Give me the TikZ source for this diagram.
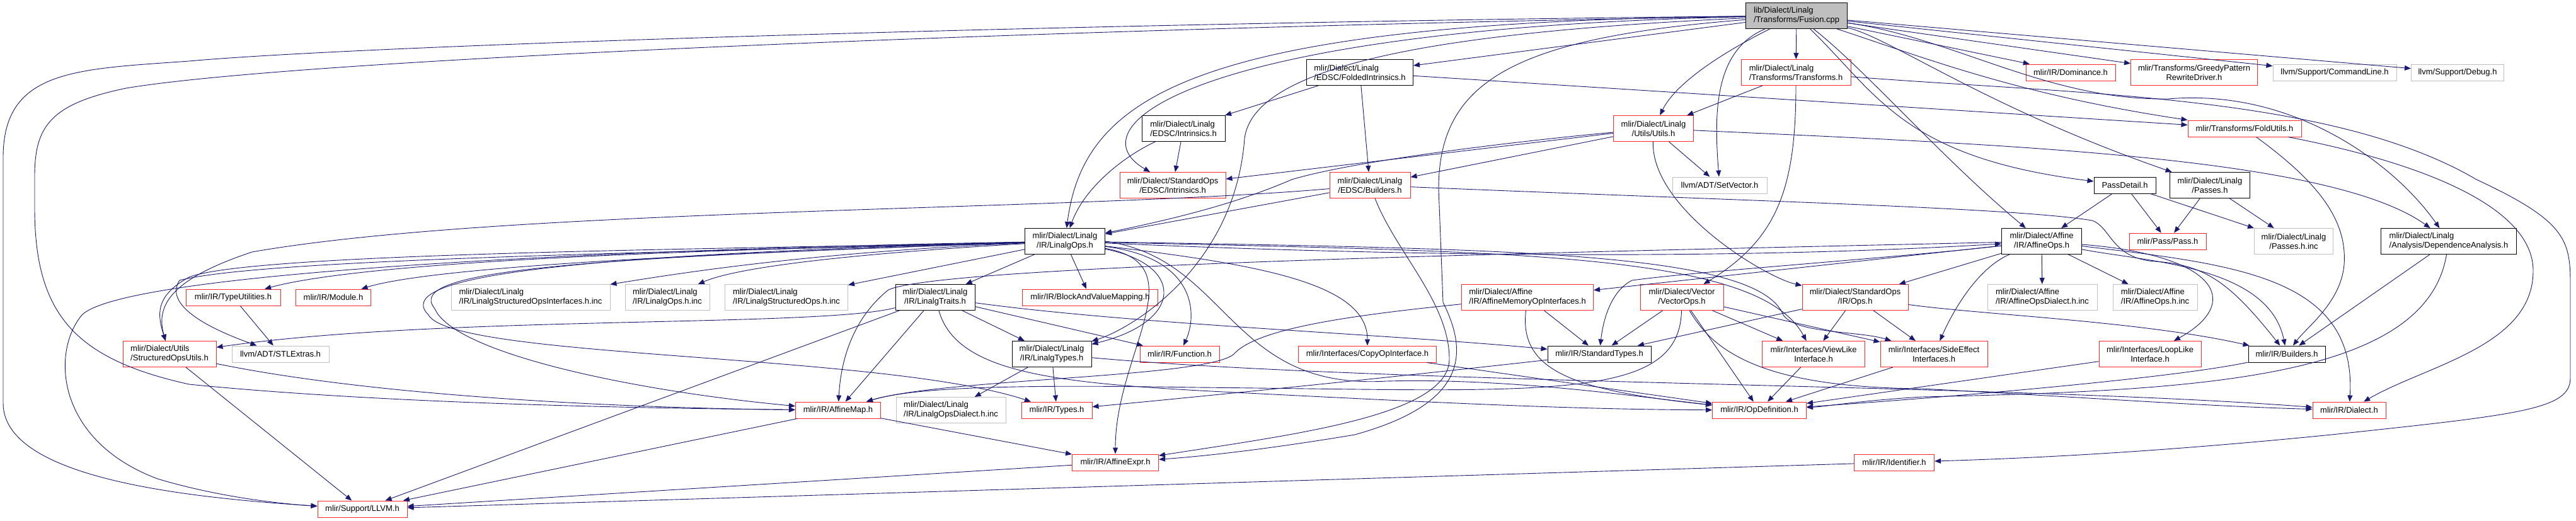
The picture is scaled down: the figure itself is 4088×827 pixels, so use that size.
\documentclass[tikz,border=0pt]{standalone}
\usepackage{fontspec}
\setmainfont{Liberation Sans}
\usetikzlibrary{arrows.meta}

\definecolor{edgeblue}{RGB}{25,25,112}
\definecolor{boxred}{RGB}{255,40,40}
\definecolor{boxgray}{RGB}{191,191,191}

\newlength\lblA
\newlength\lblB
\newcommand\lbl[2]{\settowidth\lblA{#1}\settowidth\lblB{#2}%
  \ifdim\lblB>\lblA\lblA=\lblB\fi
  \parbox{\lblA}{\makebox[\lblA][l]{#1}\\\makebox[\lblA][c]{#2}}}

\begin{document}
\begin{tikzpicture}[x=1pt,y=-1pt,
    hdr/.style={draw=black, line width=1pt, fill=white, inner sep=0pt,
      minimum height=26pt, font=\fontsize{13}{15}\selectfont},
    hdrred/.style={hdr, draw=boxred},
    hdrgray/.style={hdr, draw=boxgray},
    srcfile/.style={hdr, fill=boxgray, minimum height=41pt},
    twoline/.style={minimum height=41pt},
    incl/.style={draw=edgeblue, line width=0.9pt, -{Triangle[length=10pt,width=8pt]}}]

\fill[white] (0,0) rectangle (4088,827);
\useasboundingbox (0,0) rectangle (4088,827);

% Source file
\node[srcfile, minimum width=161pt] (fusion) at (2851,25) {\lbl{lib/Dialect/Linalg}{/Transforms/Fusion.cpp}};

% Headers, top rows
\node[hdr, twoline, minimum width=169pt] (foldedintr) at (2158,115) {\lbl{mlir/Dialect/Linalg}{/EDSC/FoldedIntrinsics.h}};
\node[hdrred, twoline, minimum width=174pt] (transforms) at (2850,115) {\lbl{mlir/Dialect/Linalg}{/Transforms/Transforms.h}};
\node[hdrred, minimum width=142pt] (dominance) at (3286,115) {mlir/IR/Dominance.h};
\node[hdrred, twoline, minimum width=201pt] (greedy) at (3482,115) {\lbl{mlir/Transforms/GreedyPattern}{RewriteDriver.h}};
\node[hdrgray, minimum width=196pt] (cmdline) at (3705,115) {llvm/Support/CommandLine.h};
\node[hdrgray, minimum width=147pt] (debug) at (3900,115) {llvm/Support/Debug.h};

\node[hdr, twoline, minimum width=132pt] (linalgintr) at (1878,204) {\lbl{mlir/Dialect/Linalg}{/EDSC/Intrinsics.h}};
\node[hdrred, twoline, minimum width=127pt] (utils) at (2624,204) {\lbl{mlir/Dialect/Linalg}{/Utils/Utils.h}};
\node[hdrred, minimum width=180pt] (foldutils) at (3562,204) {mlir/Transforms/FoldUtils.h};

\node[hdrred, twoline, minimum width=168pt] (stdintr) at (1861,294) {\lbl{mlir/Dialect/StandardOps}{/EDSC/Intrinsics.h}};
\node[hdrred, twoline, minimum width=128pt] (edscbuilders) at (2174,294) {\lbl{mlir/Dialect/Linalg}{/EDSC/Builders.h}};
\node[hdrgray, minimum width=150pt] (setvector) at (2729,294) {llvm/ADT/SetVector.h};
\node[hdr, minimum width=98pt] (passdetail) at (3372,294) {PassDetail.h};
\node[hdr, twoline, minimum width=127pt] (passes) at (3507,294) {\lbl{mlir/Dialect/Linalg}{/Passes.h}};

\node[hdr, twoline, minimum width=127pt] (linalgops) at (1690,383) {\lbl{mlir/Dialect/Linalg}{/IR/LinalgOps.h}};
\node[hdr, twoline, minimum width=127pt] (affineops) at (3240,383) {\lbl{mlir/Dialect/Affine}{/IR/AffineOps.h}};
\node[hdrred, minimum width=122pt] (pass) at (3440,383) {mlir/Pass/Pass.h};
\node[hdrgray, twoline, minimum width=125pt] (passesinc) at (3640,383) {\lbl{mlir/Dialect/Linalg}{/Passes.h.inc}};
\node[hdr, twoline, minimum width=215pt] (depanalysis) at (3886,383) {\lbl{mlir/Dialect/Linalg}{/Analysis/DependenceAnalysis.h}};

% Headers, middle rows
\node[hdrred, minimum width=150pt] (typeutils) at (370,472) {mlir/IR/TypeUtilities.h};
\node[hdrred, minimum width=119pt] (module) at (529,472) {mlir/IR/Module.h};
\node[hdrgray, twoline, minimum width=252pt] (lsoiinc) at (842,472) {\lbl{mlir/Dialect/Linalg}{/IR/LinalgStructuredOpsInterfaces.h.inc}};
\node[hdrgray, twoline, minimum width=134pt] (linalgopsinc) at (1059,472) {\lbl{mlir/Dialect/Linalg}{/IR/LinalgOps.h.inc}};
\node[hdrgray, twoline, minimum width=195pt] (lsoinc) at (1248,472) {\lbl{mlir/Dialect/Linalg}{/IR/LinalgStructuredOps.h.inc}};
\node[hdr, twoline, minimum width=126pt] (linalgtraits) at (1484,472) {\lbl{mlir/Dialect/Linalg}{/IR/LinalgTraits.h}};
\node[hdrred, minimum width=215pt] (bvmapping) at (1730,472) {mlir/IR/BlockAndValueMapping.h};
\node[hdrred, twoline, minimum width=209pt] (affinememop) at (2424,472) {\lbl{mlir/Dialect/Affine}{/IR/AffineMemoryOpInterfaces.h}};
\node[hdrred, twoline, minimum width=132pt] (vectorops) at (2669,472) {\lbl{mlir/Dialect/Vector}{/VectorOps.h}};
\node[hdrred, twoline, minimum width=168pt] (stdops) at (2944,472) {\lbl{mlir/Dialect/StandardOps}{/IR/Ops.h}};
\node[hdrgray, twoline, minimum width=174pt] (affinedialectinc) at (3241,472) {\lbl{mlir/Dialect/Affine}{/IR/AffineOpsDialect.h.inc}};
\node[hdrgray, twoline, minimum width=134pt] (affineopsinc) at (3420,472) {\lbl{mlir/Dialect/Affine}{/IR/AffineOps.h.inc}};

\node[hdrred, twoline, minimum width=148pt] (structutils) at (269,562) {\lbl{mlir/Dialect/Utils}{/StructuredOpsUtils.h}};
\node[hdrgray, minimum width=154pt] (stlextras) at (445,562) {llvm/ADT/STLExtras.h};
\node[hdr, twoline, minimum width=126pt] (linalgtypes) at (1669,562) {\lbl{mlir/Dialect/Linalg}{/IR/LinalgTypes.h}};
\node[hdrred, minimum width=126pt] (function) at (1872,562) {mlir/IR/Function.h};
\node[hdrred, minimum width=219pt] (copyop) at (2170,562) {mlir/Interfaces/CopyOpInterface.h};
\node[hdr, minimum width=164pt] (stdtypes) at (2538,562) {mlir/IR/StandardTypes.h};
\node[hdrred, twoline, minimum width=163pt] (viewlike) at (2878,562) {\lbl{mlir/Interfaces/ViewLike}{Interface.h}};
\node[hdrred, twoline, minimum width=170pt] (sideeffect) at (3069,562) {\lbl{mlir/Interfaces/SideEffect}{Interfaces.h}};
\node[hdrred, twoline, minimum width=162pt] (looplike) at (3412,562) {\lbl{mlir/Interfaces/LoopLike}{Interface.h}};
\node[hdr, minimum width=122pt] (builders) at (3629,562) {mlir/IR/Builders.h};

% Headers, bottom rows
\node[hdrred, minimum width=135pt] (affinemap) at (1330,651) {mlir/IR/AffineMap.h};
\node[hdrgray, twoline, minimum width=174pt] (opsdialectinc) at (1509,651) {\lbl{mlir/Dialect/Linalg}{/IR/LinalgOpsDialect.h.inc}};
\node[hdrred, minimum width=112pt] (types) at (1677,651) {mlir/IR/Types.h};
\node[hdrred, minimum width=149pt] (opdef) at (2792,651) {mlir/IR/OpDefinition.h};
\node[hdrred, minimum width=116pt] (dialect) at (3728,651) {mlir/IR/Dialect.h};
\node[hdrred, minimum width=137pt] (affineexpr) at (1770,734) {mlir/IR/AffineExpr.h};
\node[hdrred, minimum width=127pt] (identifier) at (3006,734) {mlir/IR/Identifier.h};
\node[hdrred, minimum width=142pt] (llvm) at (575,808) {mlir/Support/LLVM.h};

% Includes of Fusion.cpp
\draw[incl] (fusion) -- (foldedintr);
\draw[incl] (fusion) -- (transforms);
\draw[incl] (fusion) -- (dominance);
\draw[incl] (fusion) -- (greedy);
\draw[incl] (fusion) -- (cmdline);
\draw[incl] (fusion) -- (debug);
\draw[incl] (fusion) .. controls (2740,80) and (2660,130) .. (utils);
\draw[incl] (fusion) .. controls (2720,80) and (2720,180) .. (setvector);
\draw[incl] (fusion) .. controls (1900,35) and (1720,150) .. (linalgops);
\draw[incl] (fusion) .. controls (1900,45) and (1700,200) .. (stdintr);
\draw[incl] (fusion) .. controls (2300,50) and (1990,100) .. (1975,220) .. controls (1960,420) and (1800,520) .. (linalgtypes);
\draw[incl] (fusion) .. controls (2400,60) and (2283,130) .. (2283,300) -- (2290,480) .. controls (2330,560) and (2330,640) .. (2150,690) .. controls (2000,715) and (1900,725) .. (affineexpr);
\draw[incl] (fusion) .. controls (1800,35) and (600,70) .. (300,97) .. controls (120,110) and (5,110) .. (5,250) -- (5,640) .. controls (5,760) and (300,790) .. (llvm);
\draw[incl] (fusion) .. controls (1800,42) and (500,90) .. (200,140) .. controls (80,165) and (55,200) .. (55,280) -- (55,330) .. controls (55,500) and (120,570) .. (300,610) .. controls (600,640) and (1000,648) .. (affinemap);
\draw[incl] (fusion) .. controls (2960,110) and (3080,250) .. (affineops);
\draw[incl] (fusion) .. controls (3100,60) and (3250,160) .. (3441,157) .. controls (3640,140) and (3800,260) .. (depanalysis);
\draw[incl] (fusion) .. controls (3050,90) and (3200,150) .. (foldutils);
\draw[incl] (fusion) .. controls (2980,150) and (3020,250) .. (passdetail);
\draw[incl] (fusion) .. controls (3000,60) and (3150,170) .. (passes);

% FoldedIntrinsics.h and Intrinsics.h
\draw[incl] (foldedintr) -- (linalgintr);
\draw[incl] (foldedintr) -- (edscbuilders);
\draw[incl] (foldedintr) -- (foldutils);
\draw[incl] (linalgintr) -- (stdintr);
\draw[incl] (linalgintr) .. controls (1780,250) and (1720,300) .. (linalgops);

% Transforms.h
\draw[incl] (transforms) -- (utils);
\draw[incl] (transforms) .. controls (2850,300) and (2820,380) .. (vectorops);
\draw[incl] (transforms) .. controls (3300,150) and (3700,150) .. (3930,285) .. controls (4070,350) and (4079,380) .. (4079,450) -- (4079,600) .. controls (4079,650) and (4000,658) .. (3700,690) .. controls (3400,720) and (3200,728) .. (identifier);

% Utils.h
\draw[incl] (utils) -- (stdintr);
\draw[incl] (utils) .. controls (2400,225) and (2150,255) .. (2050,285) .. controls (1980,315) and (1900,340) .. (linalgops);
\draw[incl] (utils) -- (edscbuilders);
\draw[incl] (utils) -- (setvector);
\draw[incl] (utils) .. controls (3200,230) and (3700,250) .. (depanalysis);
\draw[incl] (utils) .. controls (2620,330) and (2800,440) .. (stdops);

% EDSC/Builders.h
\draw[incl] (edscbuilders) -- (linalgops);
\draw[incl] (edscbuilders) .. controls (1700,335) and (800,330) .. (400,400) .. controls (280,440) and (245,480) .. (structutils);
\draw[incl] (edscbuilders) .. controls (2215,400) and (2300,480) .. (2300,570) .. controls (2300,660) and (2050,690) .. (affineexpr);
\draw[incl] (edscbuilders) .. controls (2800,320) and (3200,330) .. (3320,350) .. controls (3350,360) and (3350,410) .. (3420,415) .. controls (3500,420) and (3540,450) .. (builders);

% LinalgOps.h
\draw[incl] (linalgops) .. controls (1200,395) and (400,400) .. (300,440) .. controls (245,470) and (250,500) .. (structutils);
\draw[incl] (linalgops) .. controls (1100,400) and (420,410) .. (285,445) .. controls (265,475) and (300,510) .. (stlextras);
\draw[incl] (linalgops) .. controls (1000,395) and (200,430) .. (130,500) .. controls (80,560) and (90,700) .. (250,760) .. controls (350,790) and (450,800) .. (llvm);
\draw[incl] (linalgops) .. controls (1200,395) and (600,410) .. (typeutils);
\draw[incl] (linalgops) .. controls (1200,400) and (700,420) .. (module);
\draw[incl] (linalgops) .. controls (1300,400) and (1100,430) .. (lsoiinc);
\draw[incl] (linalgops) .. controls (1400,400) and (1180,420) .. (linalgopsinc);
\draw[incl] (linalgops) -- (lsoinc);
\draw[incl] (linalgops) -- (linalgtraits);
\draw[incl] (linalgops) -- (bvmapping);
\draw[incl] (linalgops) .. controls (1880,420) and (1880,510) .. (linalgtypes);
\draw[incl] (linalgops) .. controls (1900,410) and (1900,500) .. (function);
\draw[incl] (linalgops) .. controls (900,410) and (640,430) .. (690,490) .. controls (720,560) and (1000,620) .. (affinemap);
\draw[incl] (linalgops) .. controls (880,405) and (620,440) .. (680,500) .. controls (720,570) and (1400,560) .. (types);
\draw[incl] (linalgops) .. controls (1900,420) and (1770,560) .. (affineexpr);
\draw[incl] (linalgops) .. controls (2000,420) and (2170,450) .. (copyop);
\draw[incl] (linalgops) .. controls (2400,400) and (2790,400) .. (viewlike);
\draw[incl] (linalgops) .. controls (2400,395) and (2790,400) .. (2830,500) .. controls (2850,530) and (2950,525) .. (sideeffect);
\draw[incl] (linalgops.east) .. controls (1950,410) and (1950,620) .. (2200,605) .. controls (2400,600) and (2600,630) .. (opdef);
\draw[incl] (linalgops) .. controls (2300,410) and (2800,410) .. (affineops);

% LinalgTraits.h and LinalgTypes.h
\draw[incl] (linalgtraits) .. controls (1300,520) and (700,500) .. (structutils);
\draw[incl] (linalgtraits) -- (llvm);
\draw[incl] (linalgtraits) -- (affinemap);
\draw[incl] (linalgtraits) -- (linalgtypes);
\draw[incl] (linalgtraits) -- (function);
\draw[incl] (linalgtraits) .. controls (1800,515) and (2200,530) .. (stdtypes);
\draw[incl] (linalgtraits) .. controls (1520,600) and (1700,610) .. (2000,625) .. controls (2300,640) and (2500,650) .. (opdef);
\draw[incl] (linalgtypes) -- (opsdialectinc);
\draw[incl] (linalgtypes) -- (types);
\draw[incl] (linalgtypes) .. controls (2200,610) and (3200,610) .. (dialect);

% StandardTypes.h and AffineMemoryOpInterfaces.h
\draw[incl] (stdtypes) .. controls (2200,600) and (1900,630) .. (types);
\draw[incl] (affinememop) -- (stdtypes);
\draw[incl] (affinememop) .. controls (2150,500) and (2000,520) .. (1960,560) .. controls (1930,600) and (1500,600) .. (affinemap);
\draw[incl] (affinememop) .. controls (2410,590) and (2500,620) .. (opdef);

% VectorOps.h and Ops.h
\draw[incl] (vectorops) -- (stdtypes);
\draw[incl] (vectorops) -- (viewlike);
\draw[incl] (vectorops) -- (sideeffect);
\draw[incl] (vectorops) -- (opdef);
\draw[incl] (vectorops) .. controls (2665,640) and (2450,620) .. (1900,615) .. controls (1600,610) and (1450,615) .. (affinemap);
\draw[incl] (vectorops) .. controls (2720,560) and (2800,615) .. (3050,617) .. controls (3300,630) and (3500,645) .. (dialect);
\draw[incl] (stdops) -- (stdtypes);
\draw[incl] (stdops) -- (viewlike);
\draw[incl] (stdops) -- (sideeffect);
\draw[incl] (stdops) .. controls (3150,500) and (3400,510) .. (builders);

% AffineOps.h
\draw[incl] (affineops) -- (affinedialectinc);
\draw[incl] (affineops) -- (affineopsinc);
\draw[incl] (affineops) .. controls (3150,420) and (3110,470) .. (sideeffect);
\draw[incl] (affineops) -- (stdops);
\draw[incl] (affineops) -- (affinememop);
\draw[incl] (affineops) .. controls (3000,410) and (2700,430) .. (2590,445) .. controls (2560,460) and (2545,500) .. (stdtypes);
\draw[incl] (affineops) .. controls (3520,405) and (3560,480) .. (looplike);
\draw[incl] (affineops) .. controls (3400,415) and (3600,420) .. (builders);
\draw[incl] (affineops) .. controls (3550,420) and (3740,440) .. (dialect);
\draw[incl] (affineops) .. controls (2500,400) and (1500,420) .. (1410,460) .. controls (1360,500) and (1335,560) .. (affinemap);

% PassDetail.h, Passes.h, DependenceAnalysis.h, FoldUtils.h
\draw[incl] (passdetail) -- (affineops);
\draw[incl] (passdetail) -- (pass);
\draw[incl] (passdetail) -- (passesinc);
\draw[incl] (passes) -- (pass);
\draw[incl] (passes) -- (passesinc);
\draw[incl] (depanalysis) -- (builders);
\draw[incl] (depanalysis) .. controls (3850,600) and (3500,620) .. (3050,630) .. controls (2950,636) and (2900,645) .. (opdef);
\draw[incl] (foldutils) .. controls (3680,290) and (3725,350) .. (3720,420) .. controls (3715,480) and (3660,520) .. (builders);
\draw[incl] (foldutils) .. controls (3850,260) and (4020,330) .. (4020,430) .. controls (4020,550) and (3850,580) .. (dialect);

% Lower headers
\draw[incl] (typeutils) -- (stlextras);
\draw[incl] (structutils) -- (llvm);
\draw[incl] (structutils) .. controls (600,630) and (1000,648) .. (affinemap);
\draw[incl] (affinemap) -- (affineexpr);
\draw[incl] (affinemap) -- (llvm);
\draw[incl] (affineexpr) -- (llvm);
\draw[incl] (identifier) -- (llvm);
\draw[incl] (copyop) -- (opdef);
\draw[incl] (viewlike) -- (opdef);
\draw[incl] (sideeffect) -- (opdef);
\draw[incl] (looplike) -- (opdef);
\draw[incl] (builders) .. controls (3450,600) and (3100,630) .. (opdef);

\end{tikzpicture}
\end{document}
